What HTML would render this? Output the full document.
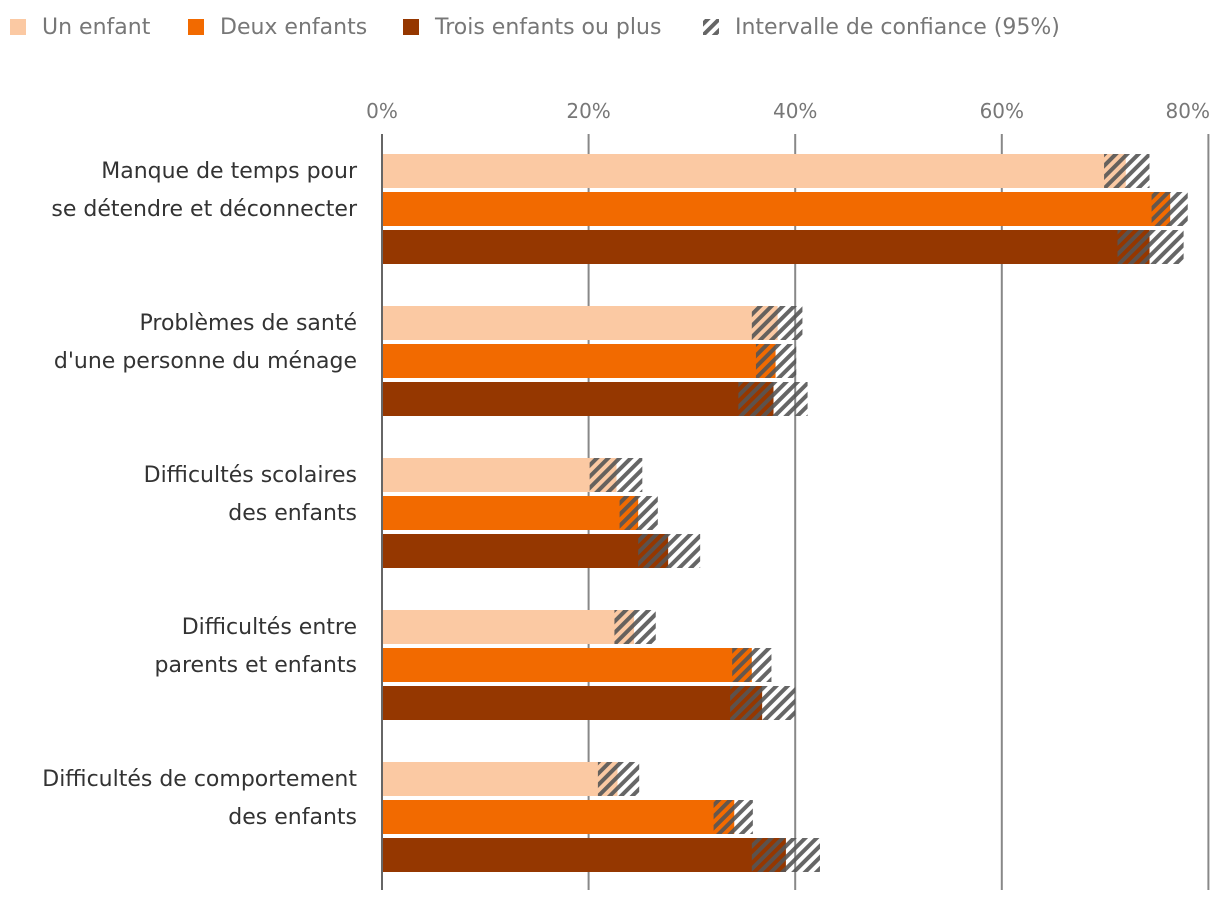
<!DOCTYPE html>
<html><head><meta charset="utf-8"><style>
body{margin:0;background:#fff;width:1220px;height:904px;overflow:hidden}
svg text{font-family:"DejaVu Sans","Liberation Sans",sans-serif}
</style></head><body>
<svg id="chart" width="1220" height="904" xmlns="http://www.w3.org/2000/svg">
<defs>
<pattern id="hatch" patternUnits="userSpaceOnUse" width="8" height="8" patternTransform="rotate(45)">
<rect x="0" y="0" width="4" height="8" fill="#555" fill-opacity="0.9"/>
</pattern>
</defs>
<g id="legend"></g>
<g id="grid"></g>
<g id="bars"></g>
<g id="labels"></g>
</svg>
<script>
const categories=[["Manque de temps pour","se détendre et déconnecter"],["Problèmes de santé","d'une personne du ménage"],["Difficultés scolaires","des enfants"],["Difficultés entre","parents et enfants"],["Difficultés de comportement","des enfants"]];
const seriesNames=["Un enfant","Deux enfants","Trois enfants ou plus"];
const seriesColors=["#fbc9a3","#f26a00","#953700"];
const estUn=[72.0,38.3,22.7,24.4,22.8];
const estDeux=[76.3,38.1,24.8,35.8,34.1];
const estTrois=[74.3,37.9,27.7,36.8,39.1];
const loUn=[69.9,35.8,20.1,22.5,20.9];
const loDeux=[74.5,36.2,23.0,33.9,32.1];
const loTrois=[71.2,34.5,24.8,33.7,35.8];
const hiUn=[74.3,40.7,25.2,26.5,24.9];
const hiDeux=[78.0,40.1,26.7,37.7,35.9];
const hiTrois=[77.6,41.2,30.8,40.0,42.4];
const ticks=[0,20,40,60,80];
const tickLabels=["0%","20%","40%","60%","80%"];

const NS="http://www.w3.org/2000/svg";
const x0=382,pxPer=10.33;
const xs=v=>x0+v*pxPer;
const groupY=i=>154+i*152;
function mk(tag,attrs,parent){const e=document.createElementNS(NS,tag);for(const k in attrs)e.setAttribute(k,attrs[k]);parent.appendChild(e);return e;}
const grid=document.getElementById('grid'),bars=document.getElementById('bars'),labels=document.getElementById('labels'),legend=document.getElementById('legend');
ticks.forEach((t,i)=>{
 const l=mk('line',{x1:xs(t),x2:xs(t),y1:134,y2:890,stroke:i==0?'#666':'#888','stroke-width':2},grid);
 
 
 const last=i==ticks.length-1;
 const tx=mk('text',{x:last?1210:xs(t),y:118,'text-anchor':last?'end':'middle','font-size':20,fill:'#777'},grid);
 tx.textContent=tickLabels[i];
 
 
});
const est=[estUn,estDeux,estTrois],lo=[loUn,loDeux,loTrois],hi=[hiUn,hiDeux,hiTrois];
categories.forEach((c,i)=>{
 for(let s=0;s<3;s++){
  const y=groupY(i)+s*38;
  const r=mk('rect',{x:x0+1,y:y,width:xs(est[s][i])-x0-1,height:34,fill:seriesColors[s]},bars);
  
  
  const h=mk('rect',{x:xs(lo[s][i]),y:y,width:xs(hi[s][i])-xs(lo[s][i]),height:34,fill:'url(#hatch)'},bars);
  
  
 }
 c.forEach((line,j)=>{
  const t=mk('text',{x:357,y:groupY(i)+24+j*38,'text-anchor':'end','font-size':22,fill:'#333'},labels);
  t.textContent=line;
  
  
 });
});
const legX=[10,188,403,703];
seriesNames.concat(["Intervalle de confiance (95%)"]).forEach((n,i)=>{
 const r=mk('rect',{x:legX[i],y:19,width:16,height:16,fill:i<3?seriesColors[i]:'url(#hatch)'},legend);
 
 
 const t=mk('text',{x:legX[i]+32,y:34,'font-size':22,fill:'#777'},legend);
 t.textContent=n;
 
 
});
</script>
</body></html>
